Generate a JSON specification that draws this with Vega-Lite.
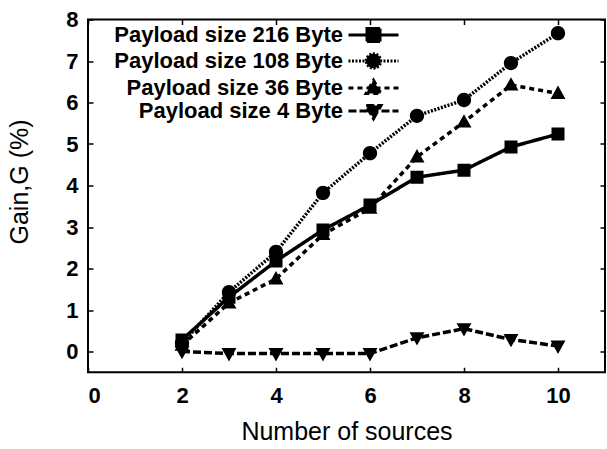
{
  "$schema": "https://vega.github.io/schema/vega-lite/v6.json",
  "width": 517,
  "height": 352.75,
  "autosize": {"type": "none"},
  "padding": {"left": 88, "top": 19.5, "right": 2, "bottom": 76.75},
  "background": "white",
  "data": {
    "values": [
      {"n": 2, "g": 0.28, "series": "Payload size 216 Byte"},
      {"n": 3, "g": 1.31, "series": "Payload size 216 Byte"},
      {"n": 4, "g": 2.18, "series": "Payload size 216 Byte"},
      {"n": 5, "g": 2.93, "series": "Payload size 216 Byte"},
      {"n": 6, "g": 3.53, "series": "Payload size 216 Byte"},
      {"n": 7, "g": 4.2, "series": "Payload size 216 Byte"},
      {"n": 8, "g": 4.37, "series": "Payload size 216 Byte"},
      {"n": 9, "g": 4.93, "series": "Payload size 216 Byte"},
      {"n": 10, "g": 5.24, "series": "Payload size 216 Byte"},
      {"n": 2, "g": 0.2, "series": "Payload size 108 Byte"},
      {"n": 3, "g": 1.43, "series": "Payload size 108 Byte"},
      {"n": 4, "g": 2.4, "series": "Payload size 108 Byte"},
      {"n": 5, "g": 3.82, "series": "Payload size 108 Byte"},
      {"n": 6, "g": 4.78, "series": "Payload size 108 Byte"},
      {"n": 7, "g": 5.68, "series": "Payload size 108 Byte"},
      {"n": 8, "g": 6.06, "series": "Payload size 108 Byte"},
      {"n": 9, "g": 6.95, "series": "Payload size 108 Byte"},
      {"n": 10, "g": 7.67, "series": "Payload size 108 Byte"},
      {"n": 2, "g": 0.15, "series": "Payload size 36 Byte"},
      {"n": 3, "g": 1.17, "series": "Payload size 36 Byte"},
      {"n": 4, "g": 1.75, "series": "Payload size 36 Byte"},
      {"n": 5, "g": 2.82, "series": "Payload size 36 Byte"},
      {"n": 6, "g": 3.45, "series": "Payload size 36 Byte"},
      {"n": 7, "g": 4.69, "series": "Payload size 36 Byte"},
      {"n": 8, "g": 5.53, "series": "Payload size 36 Byte"},
      {"n": 9, "g": 6.42, "series": "Payload size 36 Byte"},
      {"n": 10, "g": 6.22, "series": "Payload size 36 Byte"},
      {"n": 2, "g": 0.0, "series": "Payload size 4 Byte"},
      {"n": 3, "g": -0.05, "series": "Payload size 4 Byte"},
      {"n": 4, "g": -0.05, "series": "Payload size 4 Byte"},
      {"n": 5, "g": -0.05, "series": "Payload size 4 Byte"},
      {"n": 6, "g": -0.05, "series": "Payload size 4 Byte"},
      {"n": 7, "g": 0.33, "series": "Payload size 4 Byte"},
      {"n": 8, "g": 0.55, "series": "Payload size 4 Byte"},
      {"n": 9, "g": 0.29, "series": "Payload size 4 Byte"},
      {"n": 10, "g": 0.13, "series": "Payload size 4 Byte"}
    ]
  },
  "layer": [
    {
      "mark": {"type": "line", "color": "black", "strokeWidth": 3.5},
      "encoding": {
        "x": {
          "field": "n", "type": "quantitative",
          "scale": {"domain": [0, 11], "nice": false, "zero": false},
          "axis": {
            "orient": "bottom", "values": [0, 2, 4, 6, 8, 10],
            "title": "Number of sources",
            "titleY": 47, "titleX": 258.5
          }
        },
        "y": {
          "field": "g", "type": "quantitative",
          "scale": {"domain": [-0.5, 8], "nice": false, "zero": false},
          "axis": {
            "orient": "left", "values": [0, 1, 2, 3, 4, 5, 6, 7, 8],
            "title": "Gain,G (%)",
            "titleX": -56, "titleY": 162
          }
        },
        "strokeDash": {
          "field": "series", "type": "nominal",
          "scale": {
            "domain": ["Payload size 216 Byte", "Payload size 108 Byte", "Payload size 36 Byte", "Payload size 4 Byte"],
            "range": [[1, 0], [2, 1.5], [5, 4], [8, 3]]
          },
          "legend": {
            "encode": {
              "symbols": {
                "update": {
                  "fill": {"value": "black"},
                  "stroke": {"value": "black"},
                  "strokeWidth": {"value": 3},
                  "opacity": {"value": 1}
                }
              }
            }
          }
        },
        "detail": {"field": "series"}
      }
    },
    {
      "mark": {"type": "point", "filled": true, "color": "black", "opacity": 1, "size": 169, "strokeWidth": 0},
      "encoding": {
        "x": {
          "field": "n", "type": "quantitative",
          "axis": {"orient": "top", "values": [0, 2, 4, 6, 8, 10], "labels": false, "title": null}
        },
        "y": {
          "field": "g", "type": "quantitative",
          "axis": {"orient": "right", "values": [0, 1, 2, 3, 4, 5, 6, 7, 8], "labels": false, "title": null}
        },
        "shape": {
          "field": "series", "type": "nominal",
          "scale": {
            "domain": ["Payload size 216 Byte", "Payload size 108 Byte", "Payload size 36 Byte", "Payload size 4 Byte"],
            "range": [
              "M-3.85,0H3.85M-1,-1H1V1H-1Z",
              "M-3.85,0H3.85M-1.1,0A1.1,1.1,0,1,1,1.1,0A1.1,1.1,0,1,1,-1.1,0Z",
              "M-3.85,0H3.85M0,-1.2L1.15,0.85L-1.15,0.85Z",
              "M-3.85,0H3.85M0,1.2L1.15,-0.85L-1.15,-0.85Z"
            ]
          },
          "legend": {
            "encode": {
              "symbols": {
                "update": {
                  "fill": {"value": "black"},
                  "stroke": {"value": "black"},
                  "strokeWidth": {"value": 3},
                  "opacity": {"value": 1}
                }
              }
            }
          }
        }
      }
    }
  ],
  "resolve": {"axis": {"x": "independent", "y": "independent"}},
  "config": {
    "font": "Liberation Sans",
    "view": {"stroke": "black", "strokeWidth": 2},
    "axis": {
      "grid": false,
      "domain": false,
      "ticks": true,
      "tickSize": -5,
      "tickColor": "black",
      "tickWidth": 1.5,
      "labelFont": "Liberation Sans",
      "labelFontSize": 22,
      "labelFontWeight": "bold",
      "labelColor": "black",
      "titleFont": "Liberation Sans",
      "titleFontSize": 25,
      "titleFontWeight": "normal",
      "titleColor": "black"
    },
    "axisX": {"labelPadding": 18},
    "axisY": {"labelPadding": 15},
    "legend": {
      "orient": "none",
      "legendX": 274.5,
      "legendY": 4.5,
      "title": null,
      "padding": 0,
      "rowPadding": -1,
      "symbolSize": 169,
      "symbolFillColor": "black",
      "symbolStrokeColor": "black",
      "symbolStrokeWidth": 3,
      "labelFontSize": 22,
      "labelFontWeight": "bold",
      "labelFont": "Liberation Sans",
      "labelColor": "black",
      "labelAlign": "right",
      "labelOffset": -41.5,
      "labelLimit": 400
    }
  }
}
